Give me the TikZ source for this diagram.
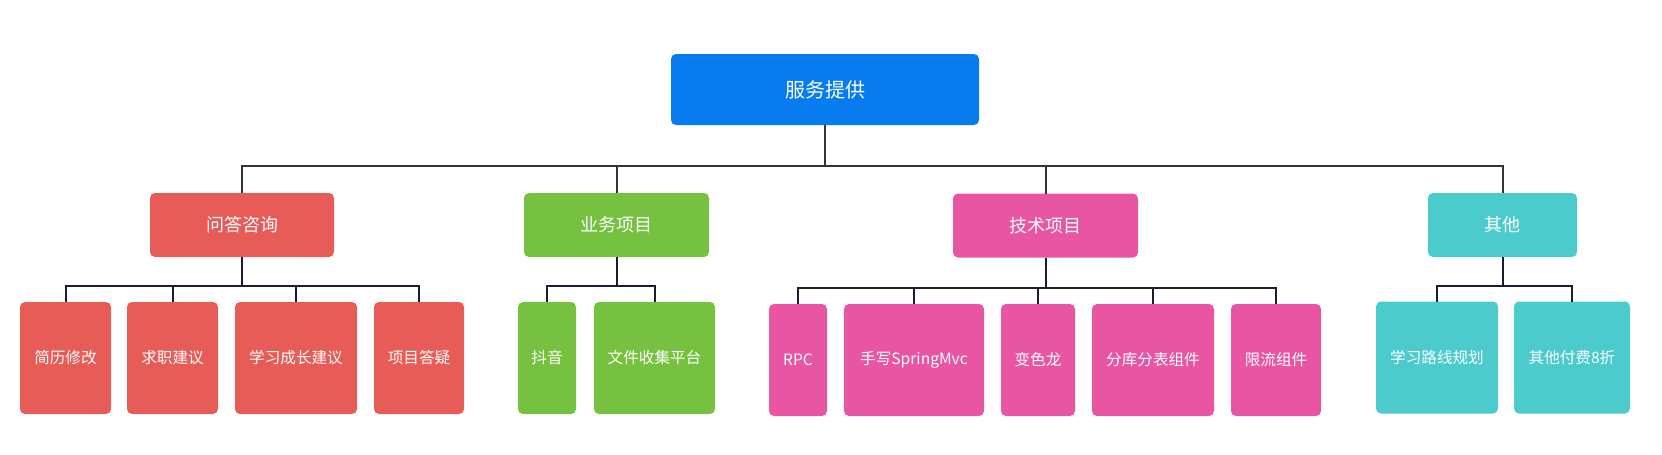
\documentclass[tikz,border=0pt]{standalone}
\usepackage{fontspec}
\newfontfamily\cjk{Noto Sans CJK SC}
\definecolor{rootblue}{HTML}{087CEE}
\definecolor{qared}{HTML}{E85C58}
\definecolor{bizgreen}{HTML}{76C13F}
\definecolor{techpink}{HTML}{E755A3}
\definecolor{othercyan}{HTML}{4CCBCD}
\definecolor{trunkgray}{HTML}{333333}
\definecolor{branchnavy}{HTML}{1C1C30}
\begin{document}
\begin{tikzpicture}[x=0.5pt, y=-0.5pt,
	box/.style={rounded corners=2.5pt, text=white, inner sep=0pt, outer sep=0pt},
	rootbox/.style={box, fill=rootblue, minimum width=154pt, minimum height=35.5pt, font=\cjk\fontsize{10}{12}\selectfont},
	groupbox/.style={box, minimum height=32pt, font=\cjk\fontsize{9}{11}\selectfont},
	leafbox/.style={box, minimum height=56pt, font=\cjk\fontsize{7.8}{9}\selectfont},
	trunk/.style={draw=trunkgray, line width=1pt},
	branch/.style={draw=branchnavy, line width=1pt}]
	\useasboundingbox (0,0) rectangle (1662,455);

	\node[rootbox] (root) at (825,89.5) {服务提供};

	\node[groupbox, fill=qared, minimum width=92pt] (qa) at (242,225) {问答咨询};
	\node[groupbox, fill=bizgreen, minimum width=92.5pt] (biz) at (616.5,225) {业务项目};
	\node[groupbox, fill=techpink, minimum width=92.5pt] (tech) at (1045.5,225.5) {技术项目};
	\node[groupbox, fill=othercyan, minimum width=74.5pt] (other) at (1502.5,225) {其他};

	\node[leafbox, fill=qared, minimum width=45.5pt] (resume) at (65.5,358) {简历修改};
	\node[leafbox, fill=qared, minimum width=45.5pt] (job) at (172.5,358) {求职建议};
	\node[leafbox, fill=qared, minimum width=61pt] (grow) at (296,358) {学习成长建议};
	\node[leafbox, fill=qared, minimum width=45pt] (answer) at (419,358) {项目答疑};

	\node[leafbox, fill=bizgreen, minimum width=29pt] (douyin) at (547,358) {抖音};
	\node[leafbox, fill=bizgreen, minimum width=60.5pt] (files) at (654.5,358) {文件收集平台};

	\node[leafbox, fill=techpink, minimum width=29pt] (rpc) at (798,360) {RPC};
	\node[leafbox, fill=techpink, minimum width=70pt] (mvc) at (914,360) {手写SpringMvc};
	\node[leafbox, fill=techpink, minimum width=37pt] (chameleon) at (1038,360) {变色龙};
	\node[leafbox, fill=techpink, minimum width=61pt] (shard) at (1153,360) {分库分表组件};
	\node[leafbox, fill=techpink, minimum width=45pt] (limit) at (1276,360) {限流组件};

	\node[leafbox, fill=othercyan, minimum width=61pt] (route) at (1437,357.5) {学习路线规划};
	\node[leafbox, fill=othercyan, minimum width=58pt] (discount) at (1572,357.5) {其他付费8折};

	% root to groups
	\draw[trunk] (root.south) -- ++(0,41) -| (qa.north);
	\draw[trunk] (root.south) -- ++(0,41) -| (biz.north);
	\draw[trunk] (root.south) -- ++(0,41) -| (tech.north);
	\draw[trunk] (root.south) -- ++(0,41) -| (other.north);

	% groups to leaves
	\draw[branch] (qa.south) -- ++(0,29) -| (resume.north);
	\draw[branch] (qa.south) -- ++(0,29) -| (job.north);
	\draw[branch] (qa.south) -- ++(0,29) -| (grow.north);
	\draw[branch] (qa.south) -- ++(0,29) -| (answer.north);
	\draw[branch] (biz.south) -- ++(0,29) -| (douyin.north);
	\draw[branch] (biz.south) -- ++(0,29) -| (files.north);
	\draw[branch] (tech.south) -- ++(0,30) -| (rpc.north);
	\draw[branch] (tech.south) -- ++(0,30) -| (mvc.north);
	\draw[branch] (tech.south) -- ++(0,30) -| (chameleon.north);
	\draw[branch] (tech.south) -- ++(0,30) -| (shard.north);
	\draw[branch] (tech.south) -- ++(0,30) -| (limit.north);
	\draw[branch] (other.south) -- ++(0,29) -| (route.north);
	\draw[branch] (other.south) -- ++(0,29) -| (discount.north);
\end{tikzpicture}
\end{document}
